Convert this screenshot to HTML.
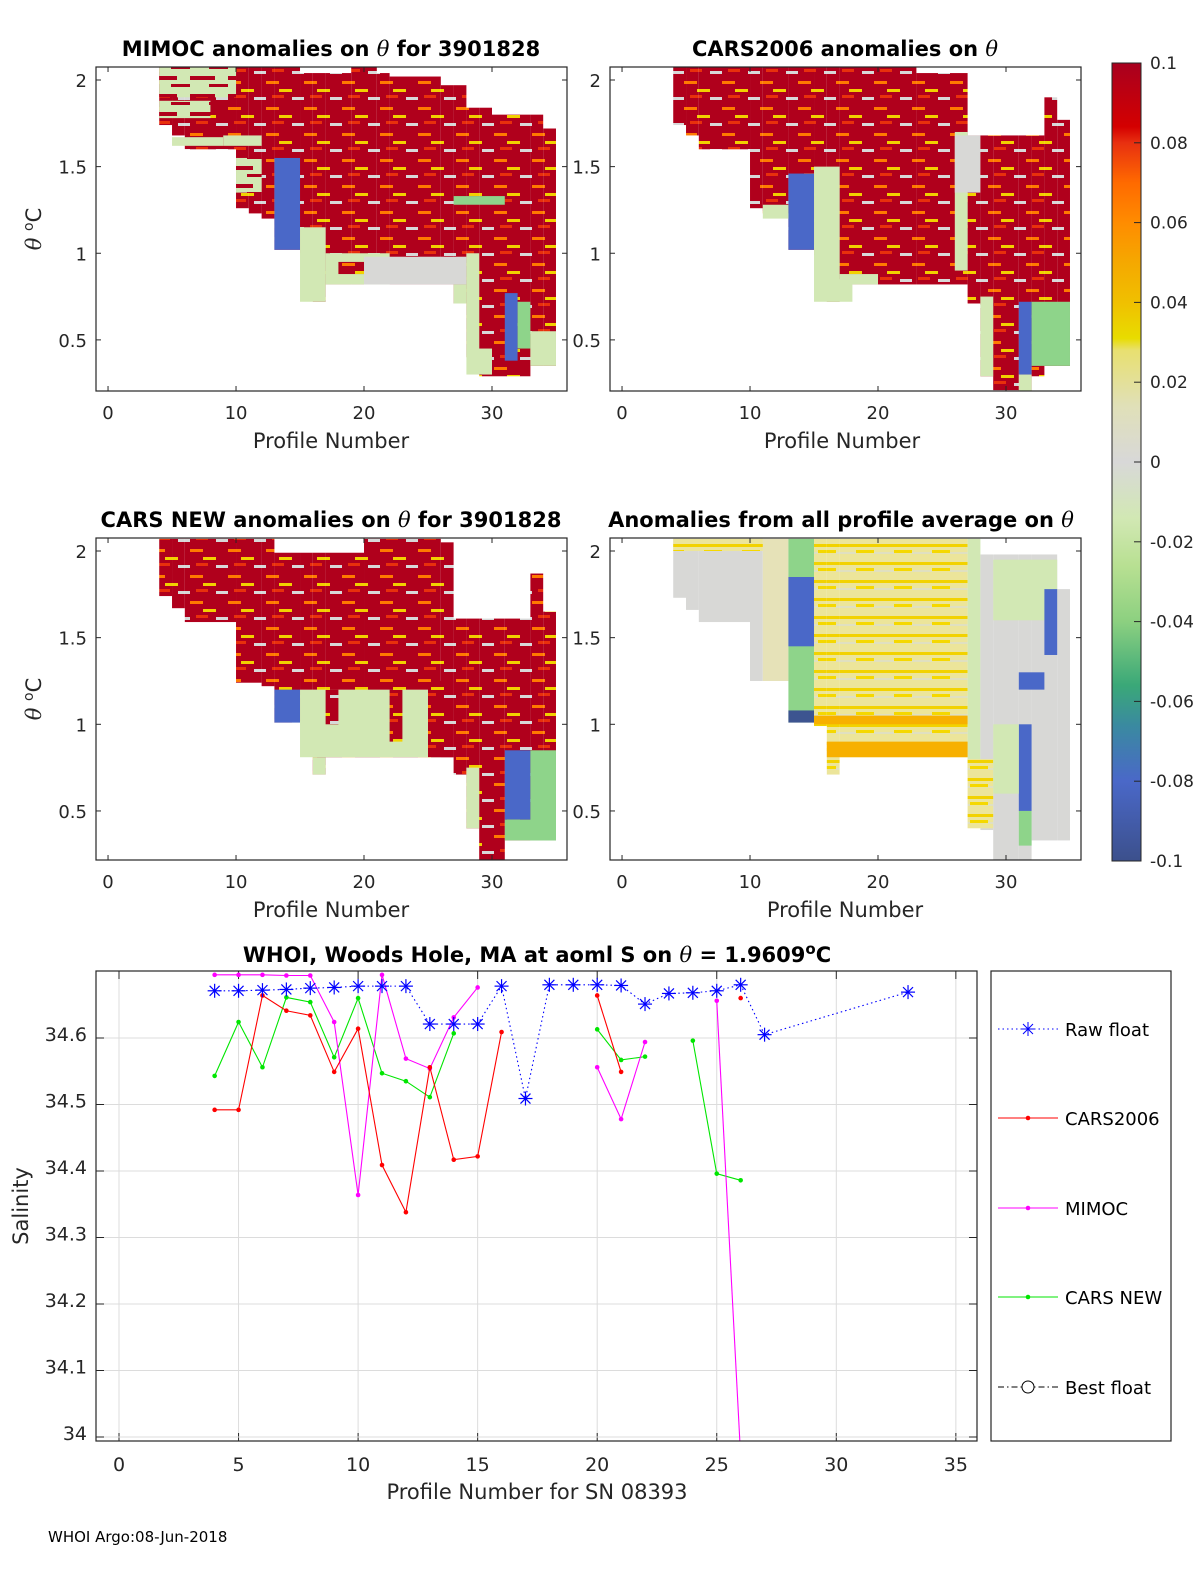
<!DOCTYPE html>
<html><head><meta charset="utf-8">
<style>
html,body{margin:0;padding:0;background:#fff;}
svg{display:block;font-family:"DejaVu Sans","Liberation Sans",sans-serif;}
</style></head>
<body>
<svg id="fig" width="1200" height="1575" viewBox="0 0 1200 1575" xmlns="http://www.w3.org/2000/svg">
<defs>
<pattern id="redTex" patternUnits="userSpaceOnUse" width="38" height="26">
<rect width="38" height="26" fill="#b0001c"/>
<rect x="0" y="3" width="13" height="3" fill="#ff7a00"/>
<rect x="13" y="11" width="13" height="3" fill="#f2d000"/>
<rect x="26" y="19" width="12" height="3" fill="#d8d8d8"/>
<rect x="6" y="17" width="12" height="3" fill="#e8300c"/>
</pattern>
<pattern id="greenTex" patternUnits="userSpaceOnUse" width="38" height="18">
<rect width="38" height="18" fill="#d2e8b4"/>
<rect x="0" y="4" width="25" height="4" fill="#b0001c"/>
<rect x="19" y="12" width="19" height="3" fill="#b0001c"/>
</pattern>
<pattern id="yelTex" patternUnits="userSpaceOnUse" width="38" height="18">
<rect width="38" height="18" fill="#ece59a"/>
<rect x="0" y="4" width="38" height="3" fill="#f2d200"/>
<rect x="0" y="12" width="20" height="2" fill="#e0e0c0"/>
<rect x="20" y="10" width="18" height="3" fill="#f5d800"/>
</pattern>
<linearGradient id="cbGrad" x1="0" y1="0" x2="0" y2="1">
<stop offset="0" stop-color="#a8001f"/>
<stop offset="0.08" stop-color="#d40000"/>
<stop offset="0.1" stop-color="#e83010"/>
<stop offset="0.15" stop-color="#ff6a00"/>
<stop offset="0.2" stop-color="#ff8c00"/>
<stop offset="0.25" stop-color="#f5a800"/>
<stop offset="0.3" stop-color="#f0c000"/>
<stop offset="0.345" stop-color="#e8dc00"/>
<stop offset="0.36" stop-color="#e8e070"/>
<stop offset="0.43" stop-color="#e0e0b8"/>
<stop offset="0.5" stop-color="#d8d8d8"/>
<stop offset="0.57" stop-color="#d2e8b4"/>
<stop offset="0.63" stop-color="#b8e092"/>
<stop offset="0.7" stop-color="#8cd080"/>
<stop offset="0.78" stop-color="#3aa878"/>
<stop offset="0.83" stop-color="#3a8aa0"/>
<stop offset="0.9" stop-color="#4a68c8"/>
<stop offset="1" stop-color="#3c508c"/>
</linearGradient>
</defs>
<g id="root"></g>
</svg>
<script>
// ---- Heatmap data: blocks [profileStart, profileEnd, thetaLow, thetaHigh, code] ----
const mimocBlocks = [
[4,5,1.74,2.08,'R'],[5,6,1.68,2.08,'R'],[6,10,1.60,2.08,'R'],[10,11,1.26,2.08,'R'],[11,12,1.23,2.08,'R'],
[12,13,1.20,2.08,'R'],[13,15,1.02,2.08,'R'],[15,16,0.99,2.04,'R'],[16,17,0.72,2.04,'R'],[17,19,0.82,2.04,'R'],
[19,21,0.82,2.08,'R'],[21,22,0.82,2.04,'R'],[22,26,0.82,2.02,'R'],[26,27,0.82,1.97,'R'],[27,28,0.71,1.97,'R'],
[28,29,0.40,1.84,'R'],[29,30,0.29,1.84,'R'],[30,33,0.29,1.80,'R'],[33,34,0.35,1.80,'R'],[34,35,0.35,1.72,'R'],
[4,10,1.90,2.08,'m'],[4,8,1.78,1.88,'m'],[5,9,1.62,1.67,'g'],[10,12,1.35,1.55,'m'],[9,12,1.62,1.68,'g'],
[13,15,1.02,1.55,'b'],[15,17,0.72,1.15,'g'],[17,22,0.82,1.00,'g'],[18,21,0.88,0.95,'R'],[20,28,0.82,0.98,'w'],
[27,28,0.71,0.82,'g'],[28,29,0.40,1.00,'g'],[31,32,0.38,0.77,'b'],[32,33,0.45,0.72,'G'],[33,35,0.35,0.55,'g'],
[28,30,0.30,0.45,'g'],[27,31,1.28,1.33,'G']];
const cars2006Blocks = [
[4,5,1.74,2.08,'R'],[5,6,1.68,2.08,'R'],[6,10,1.60,2.08,'R'],[10,11,1.26,2.08,'R'],[11,13,1.23,2.08,'R'],
[13,15,1.02,2.08,'R'],[15,16,0.99,2.08,'R'],[16,17,0.72,2.08,'R'],[17,23,0.82,2.08,'R'],[23,27,0.82,2.04,'R'],
[27,28,0.71,1.68,'R'],[28,29,0.29,1.68,'R'],[29,31,0.21,1.68,'R'],[31,32,0.19,1.68,'R'],[32,33,0.29,1.68,'R'],
[33,34,0.35,1.90,'R'],[34,35,0.35,1.77,'R'],
[13,15,1.02,1.46,'b'],[15,17,0.72,1.50,'g'],[16,18,0.72,0.85,'g'],[17,20,0.82,0.88,'g'],[11,13,1.20,1.28,'g'],
[26,27,0.90,1.70,'g'],[26,28,1.35,1.68,'w'],[28,29,0.29,0.75,'g'],[31,32,0.30,0.72,'b'],[32,35,0.35,0.72,'G'],
[31,32,0.19,0.30,'g']];
const carsNewBlocks = [
[4,5,1.74,2.07,'R'],[5,6,1.67,2.07,'R'],[6,10,1.59,2.07,'R'],[10,12,1.24,2.07,'R'],[12,13,1.22,2.07,'R'],
[13,15,1.01,1.99,'R'],[15,16,1.00,1.99,'R'],[16,17,0.71,1.99,'R'],[17,20,0.81,1.99,'R'],[20,26,0.81,2.07,'R'],
[26,27,0.81,2.05,'R'],[27,28,0.71,1.61,'R'],[28,29,0.40,1.61,'R'],[29,31,0.20,1.61,'R'],[31,33,0.33,1.61,'R'],
[33,34,0.33,1.87,'R'],[34,35,0.33,1.65,'R'],
[13,15,1.01,1.20,'b'],[15,26,0.81,1.20,'g'],[16,17,0.71,0.81,'g'],[17,18,1.0,1.2,'R'],[22,23,0.9,1.2,'R'],
[25,27,0.81,1.25,'R'],[28,29,0.40,0.75,'g'],[31,33,0.45,0.85,'b'],[33,35,0.33,0.85,'G'],[31,35,0.33,0.45,'G']];
const avgBlocks = [
[4,5,1.73,2.07,'w'],[5,6,1.66,2.07,'w'],[6,10,1.59,2.07,'w'],[10,11,1.25,2.07,'w'],[11,13,1.25,2.07,'p'],
[13,15,1.01,2.07,'G'],[15,16,0.99,2.07,'y'],[16,17,0.71,2.07,'y'],[17,27,0.81,2.07,'y'],[27,28,0.71,2.07,'g'],
[28,29,0.39,1.98,'w'],[29,31,0.20,1.98,'w'],[31,32,0.20,1.98,'w'],[32,34,0.33,1.98,'w'],[34,35,0.33,1.78,'w'],
[4,11,2.0,2.07,'y'],[13,15,1.45,1.85,'b'],[13,15,1.01,1.08,'B'],[15,27,1.0,1.05,'o'],[16,27,0.81,0.9,'o'],
[29,34,1.6,1.95,'g'],[33,34,1.4,1.78,'b'],[31,33,1.2,1.3,'b'],[31,32,0.5,1.0,'b'],[31,32,0.3,0.5,'G'],
[27,29,0.4,0.8,'y'],[29,31,0.6,1.0,'g']];

// ---- Salinity line chart data ----
const profiles = [4,5,6,7,8,9,10,11,12,13,14,15,16,17,18,19,20,21,22,23,24,25,26,27,33];
const rawFloat = [34.671,34.671,34.672,34.673,34.675,34.676,34.678,34.678,34.678,34.621,34.621,34.621,34.678,34.509,34.680,34.680,34.680,34.679,34.651,34.667,34.668,34.671,34.680,34.605,34.669];
const cars2006 = [34.492,34.492,34.664,34.641,34.634,34.549,34.614,34.409,34.338,34.556,34.417,34.422,34.609,null,null,null,34.664,34.549,null,null,null,null,34.660,null,null];
const mimoc = [34.695,34.695,34.695,34.694,34.694,34.624,34.364,34.695,34.569,34.554,34.631,34.676,null,null,null,null,34.556,34.478,34.594,null,null,34.656,33.97,null,null];
const carsNew = [34.543,34.624,34.556,34.661,34.654,34.571,34.660,34.547,34.535,34.511,34.607,null,null,null,null,null,34.613,34.567,34.572,null,34.596,34.396,34.386,null,null];
const xTicksBottom = [0,5,10,15,20,25,30,35];
const yTicksBottom = [34,34.1,34.2,34.3,34.4,34.5,34.6];
const thetaTicks = [0.5,1,1.5,2];
const profTicks = [0,10,20,30];
const cbTicks = [0.1,0.08,0.06,0.04,0.02,0,-0.02,-0.04,-0.06,-0.08,-0.1];

const NS = "http://www.w3.org/2000/svg";
const root = document.getElementById('root');
function mk(tag, attrs, parent){ const e=document.createElementNS(NS,tag); for(const k in attrs) e.setAttribute(k,attrs[k]); (parent||root).appendChild(e); return e; }
function txt(s, attrs, parent){ const e=mk('text',attrs,parent); e.textContent=s; return e; }

const codeFill = {R:'url(#redTex)',m:'url(#greenTex)',r:'#d81010',o:'#f7b000',y:'url(#yelTex)',p:'#e6e2b8',w:'#d8d8d6',g:'#d2e8b4',G:'#8ed48a',t:'#3aa878',b:'#4a68c8',B:'#3d5490'};

function heatPanel(cfg){
  const g = mk('g',{});
  
  
  const X = p => cfg.x0 + (p - cfg.xmin)/(cfg.xmax-cfg.xmin)*cfg.w;
  const Y = t => cfg.y0 + (cfg.tmax - t)/(cfg.tmax-cfg.tmin)*cfg.h;
  const clip = mk('clipPath',{id:cfg.name+'-clip'},g);
  mk('rect',{x:cfg.x0,y:cfg.y0,width:cfg.w,height:cfg.h},clip);
  const cells = mk('g',{'clip-path':'url(#'+cfg.name+'-clip)'},g);
  cfg.blocks.forEach(b=>{
    const r = mk('rect',{x:X(b[0]),y:Y(b[3]),width:X(b[1])-X(b[0]),height:Y(b[2])-Y(b[3]),fill:codeFill[b[4]]},cells);
    
    
  });
  const box = mk('rect',{x:cfg.x0,y:cfg.y0,width:cfg.w,height:cfg.h,fill:'none',stroke:'#262626','stroke-width':1.2},g);
  
  
  profTicks.forEach(v=>{
    const x=X(v);
    mk('line',{x1:x,y1:cfg.y0+cfg.h,x2:x,y2:cfg.y0+cfg.h-5,stroke:'#262626'},g);
    mk('line',{x1:x,y1:cfg.y0,x2:x,y2:cfg.y0+5,stroke:'#262626'},g);
    const t=txt(String(v),{x:x,y:cfg.y0+cfg.h+28,'font-size':18,'text-anchor':'middle',fill:'#262626'},g);
    
    
  });
  thetaTicks.forEach(v=>{
    const y=Y(v);
    mk('line',{x1:cfg.x0,y1:y,x2:cfg.x0+5,y2:y,stroke:'#262626'},g);
    mk('line',{x1:cfg.x0+cfg.w,y1:y,x2:cfg.x0+cfg.w-5,y2:y,stroke:'#262626'},g);
    const t=txt(String(v),{x:cfg.x0-9,y:y+7,'font-size':18,'text-anchor':'end',fill:'#262626'},g);
    
    
  });
  const xl=txt('Profile Number',{x:cfg.xlabelX,y:cfg.y0+cfg.h+57,'font-size':21,'text-anchor':'middle',fill:'#262626'},g);
  
  
  const tt=mk('text',{x:cfg.titleX,y:cfg.titleY,'font-size':21,'font-weight':'bold','text-anchor':'middle',fill:'#000'},g);
  
  
  cfg.title.forEach(part=>{ const s=mk('tspan',part.italic?{'font-style':'italic','font-weight':'normal','font-family':'DejaVu Serif, serif'}:{},tt); s.textContent=part.t; });
  if(cfg.ylabel){
    const yl=mk('text',{x:0,y:0,transform:'translate(41,'+(cfg.y0+cfg.h/2)+') rotate(-90)','font-size':21,'text-anchor':'middle',fill:'#262626'},g);
    
    
    const a=mk('tspan',{'font-style':'italic','font-family':'DejaVu Serif, serif'},yl); a.textContent='θ ';
    const b=mk('tspan',{'font-size':14,dy:-8},yl); b.textContent='o';
    const c=mk('tspan',{dy:8},yl); c.textContent='C';
  }
}
const common = {xmin:-0.94,xmax:35.86,w:471};
heatPanel(Object.assign({},common,{name:'mimoc-panel',x0:96,y0:67,h:324,tmin:0.205,tmax:2.075,blocks:mimocBlocks,title:[{t:'MIMOC anomalies on '},{t:'θ',italic:true},{t:'  for 3901828'}],titleX:331,titleY:56,xlabelX:331,ylabel:true}));
heatPanel(Object.assign({},common,{name:'cars2006-panel',x0:610,y0:67,h:324,tmin:0.205,tmax:2.075,blocks:cars2006Blocks,title:[{t:'CARS2006 anomalies on '},{t:'θ',italic:true}],titleX:845,titleY:56,xlabelX:842,ylabel:false}));
heatPanel(Object.assign({},common,{name:'cars-new-panel',x0:96,y0:538,h:322,tmin:0.217,tmax:2.075,blocks:carsNewBlocks,title:[{t:'CARS NEW anomalies on '},{t:'θ',italic:true},{t:' for 3901828'}],titleX:331,titleY:527,xlabelX:331,ylabel:true}));
heatPanel(Object.assign({},common,{name:'all-profile-average-panel',x0:610,y0:538,h:322,tmin:0.217,tmax:2.075,blocks:avgBlocks,title:[{t:'Anomalies from all profile average on '},{t:'θ',italic:true}],titleX:841,titleY:527,xlabelX:845,ylabel:false}));

// ---- Colorbar ----
(function(){
  const g=mk('g',{});
  
  
  const y0=63,y1=861,x0=1112,w=29;
  mk('rect',{x:x0,y:y0,width:w,height:y1-y0,fill:'url(#cbGrad)',stroke:'#262626','stroke-width':1},g);
  cbTicks.forEach(v=>{
    const y=y0+(0.1-v)/0.2*(y1-y0);
    mk('line',{x1:x0+w-7,y1:y,x2:x0+w,y2:y,stroke:'#262626'},g);
    const t=txt(String(v),{x:1150,y:y+6,'font-size':17,fill:'#262626'},g);
    
    
  });
})();

// ---- Salinity chart ----
(function(){
  const g=mk('g',{});
  
  
  const bx=96,by=971,bw=881,bh=470;
  const X=p=>119+23.91*p;
  const Y=v=>1038-(v-34.6)*665;
  mk('rect',{x:bx,y:by,width:bw,height:bh,fill:'#fff'},g);
  xTicksBottom.forEach(v=>{
    const x=X(v);
    mk('line',{x1:x,y1:by,x2:x,y2:by+bh,stroke:'#dcdcdc'},g);
    mk('line',{x1:x,y1:by+bh,x2:x,y2:by+bh-8,stroke:'#262626'},g);
    mk('line',{x1:x,y1:by,x2:x,y2:by+8,stroke:'#262626'},g);
    const t=txt(String(v),{x:x,y:by+bh+30,'font-size':19,'text-anchor':'middle',fill:'#262626'},g);
    
    
  });
  yTicksBottom.forEach(v=>{
    const y=Y(v);
    mk('line',{x1:bx,y1:y,x2:bx+bw,y2:y,stroke:'#dcdcdc'},g);
    mk('line',{x1:bx,y1:y,x2:bx+8,y2:y,stroke:'#262626'},g);
    mk('line',{x1:bx+bw,y1:y,x2:bx+bw-8,y2:y,stroke:'#262626'},g);
    const t=txt(String(Math.round(v*10)/10),{x:bx-9,y:y+3,'font-size':19,'text-anchor':'end',fill:'#262626'},g);
    
    
  });
  const clip=mk('clipPath',{id:'salclip'},g);
  mk('rect',{x:bx,y:by,width:bw,height:bh},clip);
  const plot=mk('g',{'clip-path':'url(#salclip)'},g);
  function series(vals,color,name,dash){
    const sg=mk('g',{},plot);
    
    
    let seg=[];
    const flush=()=>{ if(seg.length>1){ const l=mk('polyline',{points:seg.join(' '),fill:'none',stroke:color,'stroke-width':1.1,'stroke-dasharray':dash||'none'},sg);   } seg=[]; };
    vals.forEach((v,i)=>{
      if(v===null){flush();return;}
      seg.push(X(profiles[i])+','+Y(v));
    });
    flush();
    vals.forEach((v,i)=>{
      if(v===null) return;
      const x=X(profiles[i]), y=Y(v);
      if(dash){
        const m=mk('g',{stroke:color,'stroke-width':1.2},sg);
        
        
        mk('line',{x1:x-7,y1:y,x2:x+7,y2:y},m);
        mk('line',{x1:x,y1:y-7,x2:x,y2:y+7},m);
        mk('line',{x1:x-5,y1:y-5,x2:x+5,y2:y+5},m);
        mk('line',{x1:x-5,y1:y+5,x2:x+5,y2:y-5},m);
      } else {
        const c=mk('circle',{cx:x,cy:y,r:2.3,fill:color},sg);
        
        
      }
    });
  }
  series(carsNew,'#00e600','cars-new-series');
  series(mimoc,'#ff00ff','mimoc-series');
  series(cars2006,'#ff0000','cars2006-series');
  series(rawFloat,'#0000ff','raw-float-series','1.5,3');
  mk('rect',{x:bx,y:by,width:bw,height:bh,fill:'none',stroke:'#262626','stroke-width':1.2},g);
  const t=txt('WHOI, Woods Hole, MA at aoml S on ',{x:537,y:962,'font-size':21,'font-weight':'bold','text-anchor':'middle',fill:'#000'},g);
  
  
  const th=mk('tspan',{'font-style':'italic','font-weight':'normal','font-family':'DejaVu Serif, serif'},t); th.textContent='θ';
  const r1=mk('tspan',{},t); r1.textContent=' = 1.9609';
  const r2=mk('tspan',{dy:-8,'font-size':15},t); r2.textContent='o';
  const r3=mk('tspan',{dy:8},t); r3.textContent='C';
  const xl=txt('Profile Number for SN 08393',{x:537,y:1499,'font-size':21,'text-anchor':'middle',fill:'#262626'},g);
  
  
  const yl=txt('Salinity',{x:0,y:0,transform:'translate(28,1206) rotate(-90)','font-size':21,'text-anchor':'middle',fill:'#262626'},g);
  
  
  const lg=mk('g',{},g);
  
  
  mk('rect',{x:991,y:971,width:180,height:470,fill:'#fff',stroke:'#262626','stroke-width':1.2},lg);
  const entries=[['Raw float','#0000ff','star',1029],['CARS2006','#ff0000','dot',1118],['MIMOC','#ff00ff','dot',1208],['CARS NEW','#00e600','dot',1297],['Best float','#000','circle',1387]];
  entries.forEach(e=>{
    const eg=mk('g',{},lg);
    
    
    const y=e[3], cx=1028;
    if(e[2]==='star'){
      mk('line',{x1:998,y1:y,x2:1058,y2:y,stroke:e[1],'stroke-dasharray':'1.5,3'},eg);
      mk('line',{x1:cx-7,y1:y,x2:cx+7,y2:y,stroke:e[1]},eg);
      mk('line',{x1:cx,y1:y-7,x2:cx,y2:y+7,stroke:e[1]},eg);
      mk('line',{x1:cx-5,y1:y-5,x2:cx+5,y2:y+5,stroke:e[1]},eg);
      mk('line',{x1:cx-5,y1:y+5,x2:cx+5,y2:y-5,stroke:e[1]},eg);
    } else if(e[2]==='dot'){
      mk('line',{x1:998,y1:y,x2:1058,y2:y,stroke:e[1]},eg);
      mk('circle',{cx:cx,cy:y,r:2.3,fill:e[1]},eg);
    } else {
      mk('line',{x1:998,y1:y,x2:1058,y2:y,stroke:'#000','stroke-dasharray':'6,3,1.5,3'},eg);
      mk('circle',{cx:cx,cy:y,r:6,fill:'#fff',stroke:'#000'},eg);
    }
    txt(e[0],{x:1065,y:y+7,'font-size':18,fill:'#000'},eg);
  });
})();
const foot=txt('WHOI Argo:08-Jun-2018',{x:48,y:1542,'font-size':15,fill:'#000'});


</script>
</body></html>
